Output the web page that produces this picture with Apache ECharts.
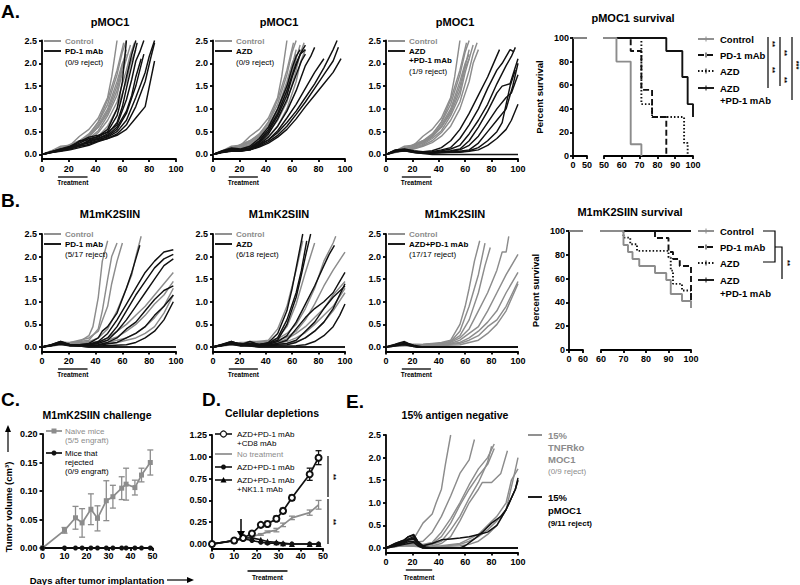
<!DOCTYPE html>
<html><head><meta charset="utf-8">
<script src="https://cdn.jsdelivr.net/npm/echarts@6/dist/echarts.min.js"></script>
<style>html,body{margin:0;padding:0;background:#fff}#c{width:800px;height:585px}</style>
</head><body><div id="c"></div>
<script>
// ================= DATA =================
const spagYTicks = [0, 0.5, 1, 1.5, 2, 2.5];

// pMOC1 control (gray) – shared by A panels
const pmoc1Control = [
 [[0,0],[7,0.08],[14,0.18],[21,0.2],[28,0.4],[35,0.55],[42,0.8],[49,1.25],[52,1.7],[56,2.5]],
 [[0,0],[7,0.06],[14,0.12],[21,0.22],[28,0.3],[35,0.45],[42,0.7],[49,1.1],[56,1.75],[60,2.25],[63,2.5]],
 [[0,0],[7,0.05],[14,0.1],[21,0.18],[28,0.25],[35,0.38],[42,0.6],[49,0.95],[56,1.5],[60,1.95],[63,2.3]],
 [[0,0],[7,0.07],[14,0.15],[21,0.2],[28,0.3],[35,0.42],[42,0.72],[49,1.2],[56,1.85],[61,2.45]],
 [[0,0],[7,0.05],[14,0.1],[21,0.15],[28,0.22],[35,0.35],[42,0.52],[49,0.85],[56,1.3],[60,1.8],[64,2.2],[66,2.4]],
 [[0,0],[7,0.06],[14,0.12],[21,0.18],[28,0.28],[35,0.4],[42,0.65],[49,1.0],[56,1.6],[60,2.0],[63,2.2]],
 [[0,0],[7,0.05],[14,0.09],[21,0.13],[28,0.2],[35,0.3],[42,0.48],[49,0.75],[56,1.15],[63,1.85],[66,2.2],[69,2.45]],
 [[0,0],[7,0.06],[14,0.11],[21,0.16],[28,0.26],[35,0.4],[42,0.6],[49,0.9],[56,1.4],[60,1.9],[63,2.1]],
 [[0,0],[7,0.04],[14,0.08],[21,0.12],[28,0.18],[35,0.26],[42,0.4],[49,0.62],[56,1.0],[63,1.6],[66,2.0],[70,2.3]]
];
const pmoc1PD1 = [
 [[0,0],[7,0.06],[14,0.12],[21,0.15],[28,0.3],[35,0.32],[42,0.4],[49,0.55],[56,1.0],[60,1.6],[63,2.5]],
 [[0,0],[7,0.05],[14,0.1],[21,0.16],[28,0.25],[35,0.35],[42,0.38],[49,0.5],[56,0.85],[60,1.3],[63,1.7],[67,2.2],[70,2.5]],
 [[0,0],[7,0.05],[14,0.1],[21,0.14],[28,0.2],[35,0.3],[42,0.35],[49,0.45],[56,0.7],[60,1.05],[63,1.45],[67,1.95],[71,2.45]],
 [[0,0],[7,0.06],[14,0.12],[21,0.18],[28,0.28],[35,0.38],[42,0.42],[49,0.48],[56,0.65],[63,1.2],[67,1.65],[70,2.05],[73,2.25],[76,2.5]],
 [[0,0],[7,0.04],[14,0.09],[21,0.15],[28,0.22],[35,0.25],[42,0.3],[49,0.4],[56,0.55],[63,0.9],[70,1.5],[73,1.85],[76,2.2]],
 [[0,0],[7,0.05],[14,0.1],[21,0.14],[28,0.2],[35,0.27],[42,0.33],[49,0.38],[56,0.5],[63,0.75],[70,1.25],[77,1.8],[80,2.15],[84,2.5]],
 [[0,0],[7,0.05],[14,0.08],[21,0.12],[28,0.18],[35,0.22],[42,0.3],[49,0.35],[56,0.45],[63,0.65],[70,1.05],[77,1.6],[81,2.1],[84,2.45]],
 [[0,0],[7,0.04],[14,0.07],[21,0.1],[28,0.15],[35,0.2],[42,0.28],[49,0.35],[56,0.42],[63,0.55],[70,0.8],[77,1.05],[84,2.05]],
 [[0,0],[7,0.05],[14,0.1],[21,0.13],[28,0.2],[35,0.3],[42,0.35],[49,0.42],[56,0.6],[63,0.95],[67,1.3],[70,1.7],[74,2.1]]
];
const pmoc1AZD = [
 [[0,0],[7,0.08],[14,0.14],[21,0.12],[28,0.18],[35,0.35],[42,0.6],[49,1.0],[56,1.5],[60,1.9],[63,2.15],[66,2.3]],
 [[0,0],[7,0.07],[14,0.12],[21,0.1],[28,0.15],[35,0.3],[42,0.55],[49,0.9],[56,1.4],[63,2.0],[67,2.25],[70,2.4]],
 [[0,0],[7,0.06],[14,0.1],[21,0.1],[28,0.12],[35,0.25],[42,0.45],[49,0.78],[56,1.2],[63,1.75],[67,2.05],[70,2.2]],
 [[0,0],[7,0.06],[14,0.1],[21,0.08],[28,0.12],[35,0.22],[42,0.38],[49,0.62],[56,0.95],[63,1.4],[70,1.95],[74,2.15],[77,2.35]],
 [[0,0],[7,0.05],[14,0.08],[21,0.08],[28,0.1],[35,0.2],[42,0.32],[49,0.52],[56,0.8],[63,1.1],[70,1.45],[77,1.8],[84,2.1]],
 [[0,0],[7,0.05],[14,0.1],[21,0.1],[28,0.14],[35,0.22],[42,0.32],[49,0.48],[56,0.7],[63,0.95],[70,1.25],[77,1.55],[84,1.9],[91,2.3],[94,2.5]],
 [[0,0],[7,0.05],[14,0.08],[21,0.08],[28,0.1],[35,0.18],[42,0.28],[49,0.42],[56,0.62],[63,0.88],[70,1.15],[77,1.45],[84,1.75],[91,2.05],[95,2.35]],
 [[0,0],[7,0.04],[14,0.07],[21,0.07],[28,0.1],[35,0.16],[42,0.25],[49,0.38],[56,0.55],[63,0.78],[70,1.05],[77,1.3],[84,1.55],[91,1.8],[97,2.1]],
 [[0,0],[7,0.06],[14,0.1],[21,0.1],[28,0.13],[35,0.28],[42,0.5],[49,0.85],[56,1.3],[60,1.7],[63,1.95],[66,2.2],[70,2.3]]
];
const pmoc1Combo = [
 [[0,0],[7,0.1],[14,0.12],[21,0.08],[28,0.06],[35,0.08],[42,0.15],[49,0.3],[56,0.55],[63,0.9],[70,1.3],[77,1.7],[80,1.9],[86,2.3]],
 [[0,0],[7,0.09],[14,0.11],[21,0.07],[28,0.05],[35,0.06],[42,0.1],[49,0.15],[56,0.35],[63,0.65],[70,1.0],[77,1.45],[84,1.85],[88,2.0],[94,2.3],[97,2.25]],
 [[0,0],[7,0.08],[14,0.1],[21,0.06],[28,0.05],[35,0.05],[42,0.08],[49,0.12],[56,0.2],[63,0.45],[70,0.75],[77,1.1],[84,1.55],[91,1.95],[95,2.15],[98,2.35]],
 [[0,0],[7,0.08],[14,0.1],[21,0.06],[28,0.04],[35,0.04],[42,0.06],[49,0.08],[56,0.12],[63,0.3],[70,0.6],[77,0.95],[84,1.35],[88,1.5],[94,1.55],[100,2.1]],
 [[0,0],[7,0.07],[14,0.09],[21,0.05],[28,0.04],[35,0.04],[42,0.05],[49,0.07],[56,0.1],[63,0.2],[70,0.4],[77,0.7],[84,1.0],[91,1.25],[95,1.35],[100,1.75]],
 [[0,0],[7,0.07],[14,0.09],[21,0.05],[28,0.03],[35,0.03],[42,0.04],[49,0.05],[56,0.07],[63,0.1],[70,0.25],[77,0.5],[84,0.75],[91,1.0],[96,1.5],[100,2.0]],
 [[0,0],[7,0.06],[14,0.08],[21,0.04],[28,0.03],[35,0.03],[42,0.04],[56,0.05],[63,0.07],[70,0.1],[77,0.2],[84,0.35],[91,0.55],[95,0.75],[100,1.1]],
 [[0,0],[7,0.06],[14,0.08],[21,0.05],[28,0.03],[35,0.03],[42,0.04],[56,0.06],[63,0.08],[70,0.15],[77,0.3],[84,0.5],[88,0.7],[91,1.1],[94,1.5],[98,1.85]],
 [[0,0],[7,0.08],[14,0.1],[21,0.05],[28,0.02],[35,0],[100,0]]
];

// M1mK2SIIN
const m1ControlPD1 = [
 [[0,0],[7,0.05],[14,0.12],[21,0.08],[28,0.12],[35,0.25],[38,0.45],[42,1.1],[45,1.9],[49,2.35]],
 [[0,0],[7,0.04],[14,0.1],[21,0.1],[28,0.12],[35,0.15],[42,0.4],[45,0.8],[49,1.5],[52,2.0],[56,2.3]],
 [[0,0],[7,0.04],[14,0.08],[21,0.1],[28,0.15],[35,0.2],[42,0.35],[49,0.9],[52,1.4],[56,1.9],[60,2.3]],
 [[0,0],[7,0.03],[14,0.1],[21,0.08],[28,0.1],[35,0.12],[42,0.2],[49,0.4],[56,0.8],[63,1.3],[67,1.6],[70,2.0],[74,2.45]],
 [[0,0],[7,0.03],[14,0.08],[21,0.06],[28,0.08],[35,0.1],[42,0.12],[49,0.2],[56,0.35],[63,0.5],[70,0.7],[77,0.9],[84,1.15],[91,1.4],[98,1.65]],
 [[0,0],[7,0.03],[14,0.07],[21,0.05],[28,0.06],[35,0.08],[42,0.1],[49,0.15],[56,0.22],[63,0.35],[70,0.5],[77,0.7],[84,0.95],[91,1.15],[98,1.45]],
 [[0,0],[7,0.02],[14,0.06],[21,0.05],[28,0.05],[35,0.06],[42,0.08],[49,0.1],[56,0.15],[63,0.2],[70,0.3],[77,0.45],[84,0.65],[91,0.9],[98,1.3]],
 [[0,0],[7,0.02],[14,0.05],[21,0.04],[28,0.05],[35,0.05],[42,0.06],[56,0.1],[63,0.15],[70,0.2],[77,0.3],[84,0.45],[91,0.75],[98,1.15]]
];
const m1PD1 = [
 [[0,0],[7,0.05],[14,0.12],[21,0.05],[28,0.05],[35,0.08],[42,0.2],[45,0.35],[49,0.45],[56,0.75],[63,1.3],[67,1.65],[70,1.95],[73,2.25]],
 [[0,0],[7,0.04],[14,0.1],[21,0.04],[28,0.05],[35,0.06],[42,0.12],[49,0.3],[56,0.6],[63,0.95],[70,1.3],[77,1.65],[84,1.9],[91,2.1],[98,2.15]],
 [[0,0],[7,0.04],[14,0.1],[21,0.05],[28,0.05],[35,0.05],[42,0.1],[49,0.2],[56,0.45],[63,0.8],[70,1.15],[77,1.45],[84,1.75],[91,1.95],[98,2.05]],
 [[0,0],[7,0.03],[14,0.08],[21,0.04],[28,0.04],[35,0.05],[42,0.08],[49,0.15],[56,0.35],[63,0.6],[70,0.9],[77,1.2],[84,1.5],[91,1.8],[98,1.95]],
 [[0,0],[7,0.03],[14,0.08],[21,0.03],[28,0.03],[35,0.04],[42,0.05],[49,0.1],[56,0.2],[63,0.4],[70,0.55],[77,0.8],[84,1.05],[91,1.25],[98,1.35]],
 [[0,0],[7,0.03],[14,0.07],[21,0.03],[28,0.03],[42,0.04],[56,0.1],[63,0.2],[70,0.3],[77,0.45],[84,0.7],[91,0.9],[98,1.15]],
 [[0,0],[7,0.03],[14,0.06],[21,0.02],[42,0.02],[63,0.05],[70,0.1],[77,0.2],[84,0.35],[91,0.6],[98,1.0]],
 [[0,0],[7,0.05],[14,0.12],[21,0.04],[28,0.02],[35,0],[100,0]],
 [[0,0],[7,0.04],[14,0.1],[21,0.05],[28,0.02],[35,0],[100,0]]
];
const m1ControlAZD = [
 [[0,0],[7,0.05],[14,0.1],[21,0.08],[28,0.12],[35,0.12],[42,0.15],[49,0.4],[56,0.9],[63,1.7],[68,2.35]],
 [[0,0],[7,0.04],[14,0.08],[21,0.1],[28,0.1],[35,0.12],[42,0.12],[49,0.2],[56,0.45],[63,0.95],[70,1.65],[77,2.3]],
 [[0,0],[7,0.04],[14,0.08],[21,0.06],[28,0.08],[35,0.1],[42,0.12],[49,0.18],[56,0.3],[63,0.5],[70,0.85],[77,1.3],[84,1.9],[91,2.3],[93,2.45]],
 [[0,0],[7,0.03],[14,0.07],[21,0.06],[28,0.08],[35,0.08],[42,0.1],[49,0.15],[56,0.22],[63,0.35],[70,0.6],[77,0.95],[84,1.35],[91,1.7],[100,2.1]],
 [[0,0],[7,0.03],[14,0.06],[21,0.05],[28,0.06],[35,0.07],[42,0.08],[49,0.1],[56,0.18],[63,0.3],[70,0.45],[77,0.65],[84,0.85],[91,1.15],[100,1.45]],
 [[0,0],[7,0.03],[14,0.05],[21,0.05],[28,0.05],[35,0.06],[42,0.07],[49,0.08],[56,0.12],[63,0.2],[70,0.32],[77,0.5],[84,0.7],[91,0.9],[100,1.3]],
 [[0,0],[7,0.02],[14,0.05],[21,0.04],[28,0.05],[42,0.05],[56,0.08],[63,0.12],[70,0.2],[77,0.35],[84,0.55],[91,0.8],[100,1.2]]
];
const m1AZD = [
 [[0,0],[7,0.06],[14,0.12],[21,0.05],[28,0.12],[35,0.05],[42,0.1],[49,0.3],[56,0.8],[60,1.3],[64,1.9],[68,2.5]],
 [[0,0],[7,0.05],[14,0.1],[21,0.06],[28,0.08],[35,0.06],[42,0.08],[49,0.15],[56,0.5],[63,1.1],[67,1.6],[70,2.0],[74,2.5]],
 [[0,0],[7,0.05],[14,0.1],[21,0.05],[28,0.06],[35,0.05],[42,0.08],[49,0.2],[56,0.6],[63,1.2],[67,1.7],[71,2.35]],
 [[0,0],[7,0.04],[14,0.09],[21,0.04],[28,0.05],[35,0.05],[42,0.06],[49,0.12],[56,0.25],[63,0.55],[70,0.95],[77,1.35],[84,1.8],[88,2.05],[92,2.25]],
 [[0,0],[7,0.04],[14,0.08],[21,0.04],[28,0.05],[35,0.04],[42,0.05],[49,0.08],[56,0.15],[63,0.4],[70,0.65],[77,0.85],[84,1.0],[91,1.2],[96,1.45],[100,1.65]],
 [[0,0],[7,0.04],[14,0.08],[21,0.03],[28,0.04],[42,0.04],[56,0.08],[63,0.15],[70,0.35],[77,0.55],[84,0.85],[91,1.1],[100,1.35]],
 [[0,0],[7,0.03],[14,0.07],[21,0.03],[28,0.03],[42,0.03],[56,0.05],[63,0.1],[70,0.2],[77,0.35],[84,0.55],[91,0.85],[100,1.4]],
 [[0,0],[7,0.03],[14,0.06],[21,0.02],[42,0.02],[63,0.03],[70,0.05],[77,0.12],[84,0.25],[91,0.45],[96,0.7],[100,0.95]],
 [[0,0],[7,0.05],[14,0.12],[21,0.05],[28,0.02],[35,0],[100,0]],
 [[0,0],[7,0.04],[14,0.09],[21,0.08],[28,0.03],[35,0],[100,0]]
];
const m1ControlCombo = [
 [[0,0],[7,0.03],[14,0.06],[21,0.05],[28,0.06],[35,0.08],[42,0.1],[49,0.15],[56,0.5],[60,0.9],[63,1.3],[67,1.9],[71,2.35]],
 [[0,0],[7,0.03],[14,0.05],[21,0.06],[28,0.05],[35,0.07],[42,0.08],[49,0.12],[56,0.35],[63,0.9],[70,1.6],[75,2.3]],
 [[0,0],[7,0.03],[14,0.05],[21,0.05],[28,0.05],[35,0.06],[42,0.08],[49,0.12],[56,0.25],[63,0.6],[70,1.2],[75,1.8],[79,2.2]],
 [[0,0],[7,0.02],[14,0.05],[21,0.04],[28,0.05],[35,0.06],[42,0.08],[49,0.1],[56,0.2],[63,0.4],[70,0.8],[77,1.2],[84,1.7],[88,2.1],[91,2.1],[93,2.45]],
 [[0,0],[7,0.02],[14,0.04],[21,0.04],[28,0.04],[35,0.05],[42,0.06],[49,0.08],[56,0.15],[63,0.3],[70,0.45],[77,0.8],[84,1.2],[91,1.6],[100,2.05]],
 [[0,0],[7,0.02],[14,0.04],[21,0.03],[28,0.04],[42,0.05],[56,0.1],[63,0.2],[70,0.35],[77,0.55],[84,0.8],[91,1.2],[100,1.65]],
 [[0,0],[7,0.02],[14,0.04],[21,0.03],[28,0.03],[42,0.04],[56,0.08],[63,0.15],[70,0.25],[77,0.45],[84,0.6],[91,0.9],[100,1.45]],
 [[0,0],[7,0.02],[14,0.03],[21,0.03],[42,0.03],[56,0.05],[63,0.1],[70,0.15],[77,0.3],[84,0.5],[91,0.8],[100,1.4]]
];
const m1Combo = [
 [[0,0],[7,0.05],[10,0.08],[14,0.1],[17,0.07],[21,0.03],[24,0],[100,0]],
 [[0,0],[7,0.04],[10,0.06],[14,0.08],[17,0.05],[21,0.02],[24,0],[100,0]],
 [[0,0],[7,0.03],[10,0.05],[14,0.06],[17,0.04],[21,0.01],[24,0],[100,0]],
 [[0,0],[7,0.06],[10,0.09],[14,0.12],[17,0.08],[21,0.04],[28,0],[100,0]],
 [[0,0],[7,0.02],[10,0.04],[14,0.05],[17,0.03],[21,0.01],[24,0],[100,0]]
];

// Survival (percent)
const survA_control = [[0,100],[57,80],[65,10],[71,0]];
const survA_pd1     = [[0,100],[65,89],[71,56],[77,33],[85,0]];
const survA_azd     = [[0,100],[71,44],[77,33],[95,11],[97,0]];
const survA_combo   = [[0,100],[85,89],[94,67],[97,44],[100,33]];
const survB_control = [[0,100],[70,88.2],[72,82.4],[74,76.5],[77,70.6],[84,64.7],[89,58.8],[91,47.1],[96,41.2],[100,35.3]];
const survB_pd1     = [[0,100],[84,94.1],[90,82.4],[92,76.5],[95,70.6],[100,41]];
const survB_azd     = [[0,100],[70,94.4],[73,88.9],[76,83.3],[90,77.8],[91,66.7],[92,55.6],[96,50],[100,44.4]];
const survB_combo   = [[0,100],[100,100]];

// C: challenge
const cDays      = [0,10,15,18,22,25,29,32,36,38,42,45,49];
const cNaiveMean = [0,0.031,0.053,0.044,0.068,0.052,0.083,0.090,0.105,0.112,0.106,0.128,0.150];
const cNaiveErr  = [0,0.005,0.02,0.025,0.027,0.022,0.035,0.02,0.02,0.028,0.013,0.012,0.022];
const cRejMean   = [0,0,0,0,0,0,0,0,0,0,0,0,0];

// D: depletions
const dDays      = [0,10,14,18,22,25,29,32,36,44,48];
const dCD8Mean   = [0,0.04,0.07,0.12,0.22,0.23,0.29,0.38,0.53,0.80,0.99];
const dCD8Err    = [0,0.01,0.01,0.01,0.02,0.03,0.03,0.03,0.03,0.07,0.08];
const dNoTxMean  = [0,0.04,0.06,0.09,0.11,0.14,0.16,0.22,0.30,0.36,0.45];
const dNoTxErr   = [0,0.005,0.01,0.01,0.01,0.01,0.02,0.02,0.02,0.03,0.05];
const dComboMean = [0,0.04,0.06,0.04,0.02,0.01,0.01,0,0,0,0];
const dNKMean    = [0,0.04,0.07,0.07,0.05,0.03,0.02,0.01,0,0,0];

// E: 15% antigen negative
const eTNFRko = [
 [[0,0],[7,0.06],[14,0.12],[17,0.15],[21,0.2],[24,0.35],[28,0.55],[35,0.75],[38,1.0],[42,1.3],[45,1.85],[49,2.5]],
 [[0,0],[7,0.05],[14,0.1],[21,0.12],[28,0.15],[35,0.35],[42,0.7],[49,1.15],[56,1.65],[63,1.95],[67,2.4]],
 [[0,0],[7,0.05],[14,0.1],[21,0.1],[28,0.08],[35,0.12],[42,0.35],[49,0.65],[56,1.0],[63,1.4],[70,1.75],[77,2.0],[82,2.3]],
 [[0,0],[7,0.04],[14,0.08],[21,0.1],[28,0.06],[35,0.1],[42,0.25],[49,0.55],[56,0.95],[63,1.3],[70,1.6],[77,1.85],[82,2.2]],
 [[0,0],[7,0.04],[14,0.08],[21,0.08],[28,0.05],[35,0.08],[42,0.15],[49,0.4],[56,0.7],[63,1.1],[70,1.45],[77,1.9],[80,2.25]],
 [[0,0],[7,0.04],[14,0.07],[21,0.06],[28,0.04],[35,0.05],[42,0.1],[49,0.25],[56,0.6],[63,1.0],[70,1.3],[73,1.45],[80,1.45],[87,1.65],[92,2.15]],
 [[0,0],[7,0.03],[14,0.06],[21,0.05],[28,0.03],[42,0.05],[56,0.1],[63,0.2],[70,0.3],[77,0.5],[84,0.7],[91,1.0],[95,1.5],[100,1.75]],
 [[0,0],[7,0.03],[14,0.05],[21,0.05],[28,0.02],[42,0.04],[56,0.08],[63,0.15],[70,0.25],[77,0.4],[84,0.6],[91,0.85],[97,1.6],[100,2.0]],
 [[0,0],[7,0.03],[14,0.05],[21,0.04],[28,0.02],[42,0.03],[56,0.05],[63,0.08],[70,0.15],[77,0.3],[84,0.5],[91,0.85],[98,1.3],[100,1.5]]
];
const ePMOC1 = [
 [[0,0],[7,0.1],[14,0.18],[17,0.25],[21,0.28],[24,0.15],[28,0.05],[35,0.1],[42,0.18],[49,0.2],[56,0.22],[63,0.25],[70,0.3],[77,0.35],[84,0.5],[91,0.85],[98,1.3],[100,1.55]],
 [[0,0],[7,0.08],[14,0.15],[21,0.22],[24,0.1],[28,0.03],[35,0],[56,0],[60,0.05],[67,0.2],[73,0.35],[80,0.55],[87,0.7],[91,0.85],[98,1.3],[100,1.5]],
 [[0,0],[7,0.1],[14,0.18],[17,0.25],[21,0.3],[24,0.15],[28,0.03],[31,0],[100,0]],
 [[0,0],[7,0.08],[14,0.15],[17,0.2],[21,0.25],[24,0.12],[28,0.02],[31,0],[100,0]],
 [[0,0],[7,0.06],[14,0.12],[17,0.18],[21,0.2],[24,0.1],[28,0.02],[31,0],[100,0]],
 [[0,0],[7,0.05],[14,0.1],[17,0.14],[21,0.15],[24,0.06],[28,0],[100,0]],
 [[0,0],[7,0.04],[14,0.08],[17,0.1],[21,0.12],[24,0.05],[28,0],[100,0]]
];

// ================= BUILD =================
const FF = 'Liberation Sans';
const GRAY = '#8c8c8c', BLACK = '#111111';
const AXW = 1.8, SPW = 1.45;
const grids = [], xAxis = [], yAxis = [], series = [], graphic = [];

function mkAxis(min, max, o) {
  o = o || {};
  const a = {
    type: 'value', min, max, show: o.show !== false,
    axisLine: { show: true, onZero: false, lineStyle: { color: '#000', width: AXW } },
    axisTick: { show: true, length: 3, lineStyle: { color: '#000', width: AXW } },
    axisLabel: { color: '#000', fontSize: 9, fontWeight: 'bold', fontFamily: FF, margin: o.margin != null ? o.margin : 4 },
    splitLine: { show: false }
  };
  if (o.interval) a.interval = o.interval;
  if (o.custom) { a.axisLabel.customValues = o.custom; a.axisTick.customValues = o.custom; }
  if (o.fmt) a.axisLabel.formatter = o.fmt;
  if (o.name) {
    a.name = o.name; a.nameLocation = 'middle'; a.nameGap = o.nameGap; a.nameRotate = 90;
    a.nameTextStyle = { fontSize: 9.5, fontWeight: 'bold', color: '#000', fontFamily: FF };
  }
  return a;
}
function addGrid(rect, xa, ya) {
  const i = grids.length;
  grids.push(rect);
  xa.gridIndex = i; ya.gridIndex = i;
  xAxis.push(xa); yAxis.push(ya);
  return i;
}
function lineSeries(i, data, color, extra) {
  series.push(Object.assign({ type: 'line', xAxisIndex: i, yAxisIndex: i, data, symbol: 'none',
    lineStyle: { color, width: SPW }, silent: true, animation: false }, extra || {}));
}
function spaghetti(left, top, width, height, sets) {
  const i = addGrid({ left, top, width, height },
    mkAxis(0, 100, { interval: 20, margin: 5 }),
    mkAxis(-0.1, 2.5, { custom: spagYTicks, fmt: v => v.toFixed(1), margin: 5 }));
  sets.forEach(s => s.curves.forEach(c => lineSeries(i, c, s.color)));
  return i;
}
// keep the part of a step curve that lies inside [.., max]
function clipStep(data, max) {
  const out = [];
  for (const p of data) {
    if (p[0] <= max) out.push(p);
    else { out.push([max, out[out.length - 1][1]]); break; }
  }
  return out;
}
function survival(top, height, s1, s2, curves) {
  const i1 = addGrid({ left: s1.left, top, width: s1.width, height },
    mkAxis(s1.min, s1.max, { interval: s1.max - s1.min }),
    mkAxis(0, 100, { interval: 20, name: 'Percent survival', nameGap: 29, margin: 4 }));
  const i2 = addGrid({ left: s2.left, top, width: s2.width, height },
    mkAxis(s2.min, s2.max, { interval: 10 }),
    { type: 'value', min: 0, max: 100, show: false, splitLine: { show: false } });
  curves.forEach(c => {
    lineSeries(i1, clipStep(c.data, s1.max), c.color, { step: 'end', lineStyle: { color: c.color, width: 1.9, type: c.dash || 'solid' } });
    lineSeries(i2, c.data, c.color, { step: 'end', lineStyle: { color: c.color, width: 1.9, type: c.dash || 'solid' } });
  });
}
function errBars(i, xs, ys, es, color) {
  series.push({ type: 'custom', xAxisIndex: i, yAxisIndex: i, silent: true, animation: false, z: 3,
    data: xs.map((x, k) => [x, ys[k], es[k]]),
    renderItem: (params, api) => {
      const x = api.value(0), y = api.value(1), e = api.value(2);
      if (!e) return null;
      const p1 = api.coord([x, y + e]), p2 = api.coord([x, y - e]);
      const st = { stroke: color, lineWidth: 1.3 };
      return { type: 'group', children: [
        { type: 'line', shape: { x1: p1[0], y1: p1[1], x2: p2[0], y2: p2[1] }, style: st },
        { type: 'line', shape: { x1: p1[0] - 3, y1: p1[1], x2: p1[0] + 3, y2: p1[1] }, style: st },
        { type: 'line', shape: { x1: p2[0] - 3, y1: p2[1], x2: p2[0] + 3, y2: p2[1] }, style: st }
      ]};
    }
  });
}
// graphic helpers
function txt(x, y, text, o) {
  o = o || {};
  graphic.push({ type: 'text', x, y, rotation: o.rot || 0, silent: true, z: 100,
    style: { text, fill: o.color || '#000', font: `${o.weight || 'bold'} ${o.size || 8}px "${FF}"`,
      align: o.align || 'left', verticalAlign: 'middle', textAlign: o.align || 'left', textVerticalAlign: 'middle' } });
}
function ln(x1, y1, x2, y2, color, w, dash) {
  graphic.push({ type: 'line', silent: true, z: 100, shape: { x1, y1, x2, y2 },
    style: { stroke: color || '#000', lineWidth: w || 1.5, lineDash: dash || null } });
}
function poly(points, color, w) {
  graphic.push({ type: 'polyline', silent: true, z: 100, shape: { points }, style: { stroke: color || '#000', lineWidth: w || 1.5, fill: null } });
}
function tri(points, color) {
  graphic.push({ type: 'polygon', silent: true, z: 100, shape: { points }, style: { fill: color || '#000' } });
}
// treatment bar under an x axis: left/width of the grid, axis span (days), start/end day
function treatment(left, width, span, d0, d1, yBar, yTxt) {
  const x0 = left + d0 * width / span, x1 = left + d1 * width / span;
  ln(x0, yBar, x1, yBar, '#000', 1.3);
  txt((x0 + x1) / 2, yTxt, 'Treatment', { size: 6.5, align: 'center' });
}

// ----- Row A -----
const rowA = { top: 40.5, height: 118.5 };
spaghetti(42, rowA.top, 134, rowA.height, [{ curves: pmoc1Control, color: GRAY }, { curves: pmoc1PD1, color: BLACK }]);
spaghetti(213, rowA.top, 132, rowA.height, [{ curves: pmoc1Control, color: GRAY }, { curves: pmoc1AZD, color: BLACK }]);
spaghetti(386, rowA.top, 132, rowA.height, [{ curves: pmoc1Control, color: GRAY }, { curves: pmoc1Combo, color: BLACK }]);
survival(38, 118, { left: 573, width: 14, min: 0, max: 50 }, { left: 604, width: 89, min: 50, max: 100 }, [
  { data: survA_combo, color: BLACK },
  { data: survA_azd, color: BLACK, dash: [1.5, 2] },
  { data: survA_pd1, color: BLACK, dash: [6, 3] },
  { data: survA_control, color: GRAY }
]);
// ----- Row B -----
const rowB = { top: 234, height: 117.5 };
spaghetti(42, rowB.top, 134, rowB.height, [{ curves: m1ControlPD1, color: GRAY }, { curves: m1PD1, color: BLACK }]);
spaghetti(213, rowB.top, 132, rowB.height, [{ curves: m1ControlAZD, color: GRAY }, { curves: m1AZD, color: BLACK }]);
spaghetti(386, rowB.top, 132, rowB.height, [{ curves: m1ControlCombo, color: GRAY }, { curves: m1Combo, color: BLACK }]);
survival(231, 119, { left: 569, width: 14, min: 0, max: 60 }, { left: 601, width: 90, min: 60, max: 100 }, [
  { data: survB_combo, color: BLACK },
  { data: survB_azd, color: BLACK, dash: [1.5, 2] },
  { data: survB_pd1, color: BLACK, dash: [6, 3] },
  { data: survB_control, color: GRAY }
]);
// ----- C -----
const iC = addGrid({ left: 42.5, top: 434, width: 110, height: 114 },
  mkAxis(0, 50, { interval: 10, margin: 3 }),
  mkAxis(0, 0.2, { interval: 0.05, fmt: v => v.toFixed(2), margin: 5 }));
errBars(iC, cDays, cNaiveMean, cNaiveErr, GRAY);
lineSeries(iC, cDays.map((d, k) => [d, cNaiveMean[k]]), GRAY, { symbol: 'rect', symbolSize: 5, showSymbol: true,
  itemStyle: { color: GRAY }, lineStyle: { color: GRAY, width: 1.7 } });
lineSeries(iC, cDays.map((d, k) => [d, cRejMean[k]]), BLACK, { symbol: 'circle', symbolSize: 5, showSymbol: true,
  itemStyle: { color: BLACK }, lineStyle: { color: BLACK, width: 1.7 } });
// ----- D -----
const iD = addGrid({ left: 212, top: 435, width: 111, height: 113.4 },
  mkAxis(0, 50, { interval: 10, margin: 3 }),
  mkAxis(-0.05, 1.25, { custom: [0, 0.25, 0.5, 0.75, 1, 1.25], fmt: v => v.toFixed(2), margin: 5 }));
errBars(iD, dDays, dNoTxMean, dNoTxErr, GRAY);
errBars(iD, dDays, dCD8Mean, dCD8Err, BLACK);
lineSeries(iD, dDays.map((d, k) => [d, dNoTxMean[k]]), GRAY, { lineStyle: { color: GRAY, width: 1.7 } });
lineSeries(iD, dDays.map((d, k) => [d, dNKMean[k]]), BLACK, { symbol: 'triangle', symbolSize: 6, showSymbol: true,
  itemStyle: { color: BLACK }, lineStyle: { color: BLACK, width: 1.6 } });
lineSeries(iD, dDays.map((d, k) => [d, dComboMean[k]]), BLACK, { symbol: 'circle', symbolSize: 5, showSymbol: true,
  itemStyle: { color: BLACK }, lineStyle: { color: BLACK, width: 1.6 } });
lineSeries(iD, dDays.map((d, k) => [d, dCD8Mean[k]]), BLACK, { symbol: 'emptyCircle', symbolSize: 6, showSymbol: true,
  itemStyle: { color: BLACK, borderWidth: 1.2 }, lineStyle: { color: BLACK, width: 1.7 } });
// ----- E -----
spaghetti(386, 435, 132, 117.5, [{ curves: eTNFRko, color: GRAY }, { curves: ePMOC1, color: BLACK }]);

// ----- Texts / annotations -----
[['A.', 1, 11], ['B.', 1, 200], ['C.', 1, 399], ['D.', 202, 399], ['E.', 346, 401]].forEach(p => txt(p[1], p[2], p[0], { size: 19 }));
[['pMOC1', 110, 22], ['pMOC1', 279, 22], ['pMOC1', 455, 22], ['pMOC1 survival', 633, 18],
 ['M1mK2SIIN', 110, 214], ['M1mK2SIIN', 279, 214], ['M1mK2SIIN', 455, 214], ['M1mK2SIIN survival', 630, 212]]
 .forEach(t => txt(t[1], t[2], t[0], { size: 11, align: 'center' }));
[['M1mK2SIIN challenge', 97, 415], ['Cellular depletions', 272, 413], ['15% antigen negative', 455, 415]]
 .forEach(t => txt(t[1], t[2], t[0], { size: 10.5, align: 'center' }));

function spagLegend(x0, x1, tx, rows) {
  rows.forEach(r => {
    if (r.line) ln(x0, r.y, x1, r.y, r.line, 1.9);
    txt(tx, r.y, r.t, { color: r.c || '#000', weight: r.w || 'bold', size: r.s || 8 });
  });
}
spagLegend(44, 61, 65, [{ y: 41, t: 'Control', line: GRAY, c: GRAY }, { y: 51, t: 'PD-1 mAb', line: BLACK }, { y: 62, t: '(0/9 reject)', w: 'normal' }]);
spagLegend(215, 232, 236, [{ y: 41, t: 'Control', line: GRAY, c: GRAY }, { y: 51, t: 'AZD', line: BLACK }, { y: 62, t: '(0/9 reject)', w: 'normal' }]);
spagLegend(388, 405, 409, [{ y: 41, t: 'Control', line: GRAY, c: GRAY }, { y: 51, t: 'AZD', line: BLACK }, { y: 60, t: '+PD-1 mAb' }, { y: 71, t: '(1/9 reject)', w: 'normal' }]);
spagLegend(44, 61, 65, [{ y: 234, t: 'Control', line: GRAY, c: GRAY }, { y: 244, t: 'PD-1 mAb', line: BLACK }, { y: 254, t: '(5/17 reject)', w: 'normal' }]);
spagLegend(215, 232, 236, [{ y: 234, t: 'Control', line: GRAY, c: GRAY }, { y: 244, t: 'AZD', line: BLACK }, { y: 254, t: '(6/18 reject)', w: 'normal' }]);
spagLegend(388, 405, 409, [{ y: 234, t: 'Control', line: GRAY, c: GRAY }, { y: 244, t: 'AZD+PD-1 mAb', line: BLACK }, { y: 254, t: '(17/17 reject)', w: 'normal' }]);

function survLegend(ys) {
  const st = [[GRAY, null], [BLACK, [6, 3]], [BLACK, [1.5, 2]], [BLACK, null]];
  const names = ['Control', 'PD-1 mAb', 'AZD', 'AZD'];
  ys.slice(0, 4).forEach((y, k) => {
    ln(698, y, 714, y, st[k][0], 1.9, st[k][1]);
    ln(706, y - 2.5, 706, y + 2.5, st[k][0], 1);
    txt(720, y, names[k], { size: 9.5 });
  });
  txt(720, ys[4], '+PD-1 mAb', { size: 9.5 });
}
survLegend([39, 55, 71, 88, 100]);
survLegend([231, 247, 263, 280, 293]);

// significance A
const starRot = -Math.PI / 2;
const star = (x, y, s) => txt(x, y, s, { size: 7.5, rot: starRot, align: 'center' });
ln(768, 37, 768, 88, '#000', 1.2); star(772, 44, '**'); star(772, 70, '**');
ln(780, 37, 780, 86, '#000', 1.2); star(784, 53, '**'); star(784, 80, '**');
ln(792, 37, 792, 100, '#000', 1.2); star(796, 65, '***');
// significance B
poly([[763, 231], [775, 231], [775, 262], [763, 262]], '#000', 1.2);
poly([[775, 247], [782, 247], [782, 279]], '#000', 1.2);
star(787, 263, '**');

// treatment bars
treatment(42, 134, 100, 12, 34, 177, 182);
treatment(213, 132, 100, 12, 34, 177, 182);
treatment(386, 132, 100, 12, 34, 177, 182);
treatment(42, 134, 100, 12, 34, 369, 374);
treatment(213, 132, 100, 12, 34, 369, 374);
treatment(386, 132, 100, 12, 34, 369, 374);
treatment(212, 111, 50, 16, 34, 571, 577);
treatment(386, 132, 100, 15, 35, 570, 577);

// C axis titles + arrows
txt(8, 507, 'Tumor volume (cm³)', { size: 9.5, rot: Math.PI / 2, align: 'center' });
ln(8, 452, 8, 431, '#000', 1.2); tri([[5, 432], [11, 432], [8, 425]]);
txt(97, 580, 'Days after tumor implantation', { size: 9.5, align: 'center' });
ln(167, 580, 188, 580, '#000', 1.2); tri([[187, 577], [187, 583], [194, 580]]);
// C legend
ln(46, 431, 62, 431, GRAY, 1.7);
graphic.push({ type: 'rect', silent: true, z: 100, shape: { x: 51.5, y: 428.5, width: 5, height: 5 }, style: { fill: GRAY } });
txt(65, 431, 'Naive mice', { color: GRAY, weight: 'normal' });
txt(65, 440, '(5/5 engraft)', { color: GRAY, weight: 'normal' });
ln(46, 453, 62, 453, BLACK, 1.7);
graphic.push({ type: 'circle', silent: true, z: 100, shape: { cx: 54, cy: 453, r: 2.5 }, style: { fill: BLACK } });
txt(65, 453, 'Mice that', { weight: 'normal' });
txt(65, 462, 'rejected', { weight: 'normal' });
txt(65, 471, '(0/9 engraft)', { weight: 'normal' });

// D legend
ln(215, 434, 232, 434, BLACK, 1.6);
graphic.push({ type: 'circle', silent: true, z: 101, shape: { cx: 223.5, cy: 434, r: 3 }, style: { fill: '#fff', stroke: BLACK, lineWidth: 1.2 } });
txt(237, 434, 'AZD+PD-1 mAb', { weight: 'normal' }); txt(237, 443, '+CD8 mAb', { weight: 'normal' });
ln(215, 454, 232, 454, GRAY, 1.7);
txt(237, 454, 'No treatment', { weight: 'normal', color: GRAY });
ln(215, 467, 232, 467, BLACK, 1.6);
graphic.push({ type: 'circle', silent: true, z: 101, shape: { cx: 223.5, cy: 467, r: 2.5 }, style: { fill: BLACK } });
txt(237, 467, 'AZD+PD-1 mAb', { weight: 'normal' });
ln(215, 480, 232, 480, BLACK, 1.6);
tri([[220.5, 482.5], [226.5, 482.5], [223.5, 477]]);
txt(237, 480, 'AZD+PD-1 mAb', { weight: 'normal' }); txt(237, 489, '+NK1.1 mAb', { weight: 'normal' });
// D arrow and significance
ln(241, 519, 241, 532, '#000', 1.5); tri([[237, 531], [245, 531], [241, 538]]);
ln(328, 456, 328, 497, '#000', 1.2); star(333, 477, '**');
ln(328, 499, 328, 544, '#000', 1.2); star(333, 522, '**');

// E legend
ln(528, 435, 542, 435, GRAY, 1.9);
txt(548, 435, '15%', { size: 9.5, color: GRAY }); txt(548, 447, 'TNFRko', { size: 9.5, color: GRAY });
txt(548, 459, 'MOC1', { size: 9.5, color: GRAY }); txt(548, 471, '(0/9 reject)', { size: 8, weight: 'normal', color: GRAY });
ln(528, 497, 542, 497, BLACK, 1.9);
txt(548, 497, '15%', { size: 9.5 }); txt(548, 510, 'pMOC1', { size: 9.5 }); txt(548, 523, '(9/11 reject)', { size: 8 });

const chart = echarts.init(document.getElementById('c'), null, { renderer: 'svg' });
chart.setOption({ animation: false, backgroundColor: '#fff', grid: grids, xAxis, yAxis, series, graphic });
</script></body></html>
